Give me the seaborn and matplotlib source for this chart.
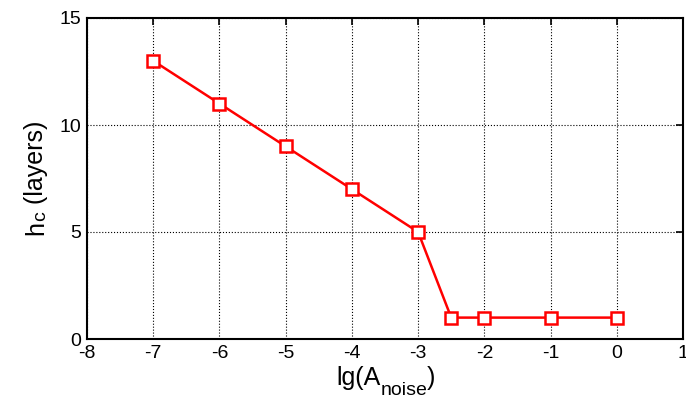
import matplotlib
matplotlib.use("Agg")
import matplotlib.pyplot as plt
import seaborn as sns
import pandas as pd

lg_noise = [-7, -6, -5, -4, -3, -2.5, -2, -1, 0]
hc_layers = [13, 11, 9, 7, 5, 1, 1, 1, 1]
x_ticks = [-8, -7, -6, -5, -4, -3, -2, -1, 0, 1]
y_ticks = [0, 5, 10, 15]

sns.set_style("white")
plt.rcParams['font.family'] = ['Liberation Sans', 'DejaVu Sans']
plt.rcParams['text.color'] = 'black'

df = pd.DataFrame({"x": lg_noise, "y": hc_layers})

W, H = 686, 398
fig = plt.figure(figsize=(W / 100, H / 100), dpi=100)
ax = fig.add_axes([87 / W, 1 - 339 / H, (683 - 87) / W, (339 - 18) / H])

sns.lineplot(data=df, x="x", y="y", ax=ax, color="red", linewidth=1.8,
             marker="s", markersize=9, markerfacecolor="white",
             markeredgecolor="red", markeredgewidth=1.8, zorder=3)

ax.set_xlim(-8, 1)
ax.set_ylim(0, 15)
ax.set_xticks(x_ticks)
ax.set_yticks(y_ticks)
ax.set_xticklabels([str(t) for t in x_ticks])
ax.set_yticklabels([str(t) for t in y_ticks])
ax.grid(True, color="black", linestyle=":", linewidth=0.8)
for s in ax.spines.values():
    s.set_visible(True)
    s.set_color("black")
    s.set_linewidth(1.5)
ax.tick_params(direction="in", length=5, width=1.2, top=True, right=True,
               labelsize=14, pad=4, colors="black")
ax.set_xlabel("")
ax.set_ylabel("")

main_fs, sub_fs = 18, 14

# x label: lg(A_noise)
t1 = ax.annotate("lg(A", xy=(336, H - 385), xycoords="figure pixels", color="black",
                 ha="left", va="baseline", fontsize=main_fs, annotation_clip=False)
t2 = ax.annotate("noise", xy=(1, H - 395), xycoords=(t1, "figure pixels"), color="black",
                 ha="left", va="baseline", fontsize=sub_fs, annotation_clip=False)
t3 = ax.annotate(")", xy=(1, H - 385), xycoords=(t2, "figure pixels"), color="black",
                 ha="left", va="baseline", fontsize=main_fs, annotation_clip=False)

# y label: h_c (layers)
y1 = ax.annotate("h", xy=(43, H - 235), xycoords="figure pixels", rotation=90,
                 rotation_mode="anchor", ha="left", va="baseline", color="black",
                 fontsize=main_fs, annotation_clip=False)
y2 = ax.annotate("c", xy=(45, 1), xycoords=("figure pixels", y1), rotation=90,
                 rotation_mode="anchor", ha="left", va="baseline", color="black",
                 fontsize=sub_fs, annotation_clip=False)
y3 = ax.annotate(" (layers)", xy=(43, 1), xycoords=("figure pixels", y2), rotation=90,
                 rotation_mode="anchor", ha="left", va="baseline", color="black",
                 fontsize=main_fs, annotation_clip=False)

fig.savefig("out.png", dpi=100)
